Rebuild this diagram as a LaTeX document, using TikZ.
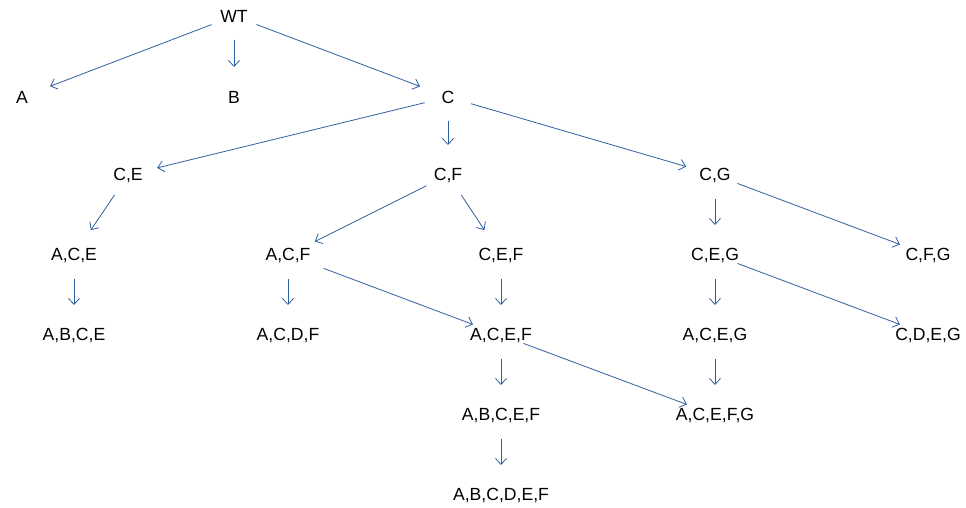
\documentclass[tikz,border=0pt]{standalone}
\usepackage{fontspec}
\setmainfont{Liberation Sans}
\usetikzlibrary{arrows.meta}
\definecolor{edgeblue}{RGB}{46,95,160}
\begin{document}
\begin{tikzpicture}[x=1pt,y=-1pt,
  lab/.style={inner sep=0pt,font=\fontsize{17.6}{20}\selectfont},
  edge/.style={draw=edgeblue,line width=0.8pt,-{Straight Barb[length=6pt,width=11pt]},shorten <=24pt,shorten >=30pt}]
\useasboundingbox (0,0) rectangle (966,508);
\node[lab] (wt) at (234,16) {WT};
\node[lab] (a) at (22,97) {A};
\node[lab] (b) at (234,97) {B};
\node[lab] (c) at (448,97) {C};
\node[lab] (ce) at (128,175) {C,E};
\node[lab] (cf) at (448,175) {C,F};
\node[lab] (cg) at (715,175) {C,G};
\node[lab] (ace) at (74,255) {A,C,E};
\node[lab] (acf) at (288,255) {A,C,F};
\node[lab] (cef) at (501,255) {C,E,F};
\node[lab] (ceg) at (715,255) {C,E,G};
\node[lab] (cfg) at (928,255) {C,F,G};
\node[lab] (abce) at (74,335) {A,B,C,E};
\node[lab] (acdf) at (288,335) {A,C,D,F};
\node[lab] (acef) at (501,335) {A,C,E,F};
\node[lab] (aceg) at (715,335) {A,C,E,G};
\node[lab] (cdeg) at (928,335) {C,D,E,G};
\node[lab] (abcef) at (501,415) {A,B,C,E,F};
\node[lab] (acefg) at (715,415) {A,C,E,F,G};
\node[lab] (abcdef) at (501,495) {A,B,C,D,E,F};
\draw[edge] (wt.center) -- (a.center);
\draw[edge] (wt.center) -- (b.center);
\draw[edge] (wt.center) -- (c.center);
\draw[edge] (c.center) -- (ce.center);
\draw[edge] (c.center) -- (cf.center);
\draw[edge] (c.center) -- (cg.center);
\draw[edge] (ce.center) -- (ace.center);
\draw[edge] (cf.center) -- (acf.center);
\draw[edge] (cf.center) -- (cef.center);
\draw[edge] (cg.center) -- (ceg.center);
\draw[edge] (cg.center) -- (cfg.center);
\draw[edge] (ace.center) -- (abce.center);
\draw[edge] (acf.center) -- (acdf.center);
\draw[edge,shorten <=38pt] (acf.center) -- (acef.center);
\draw[edge] (cef.center) -- (acef.center);
\draw[edge] (ceg.center) -- (aceg.center);
\draw[edge] (ceg.center) -- (cdeg.center);
\draw[edge] (acef.center) -- (abcef.center);
\draw[edge] (acef.center) -- (acefg.center);
\draw[edge] (aceg.center) -- (acefg.center);
\draw[edge] (abcef.center) -- (abcdef.center);
\end{tikzpicture}
\end{document}
